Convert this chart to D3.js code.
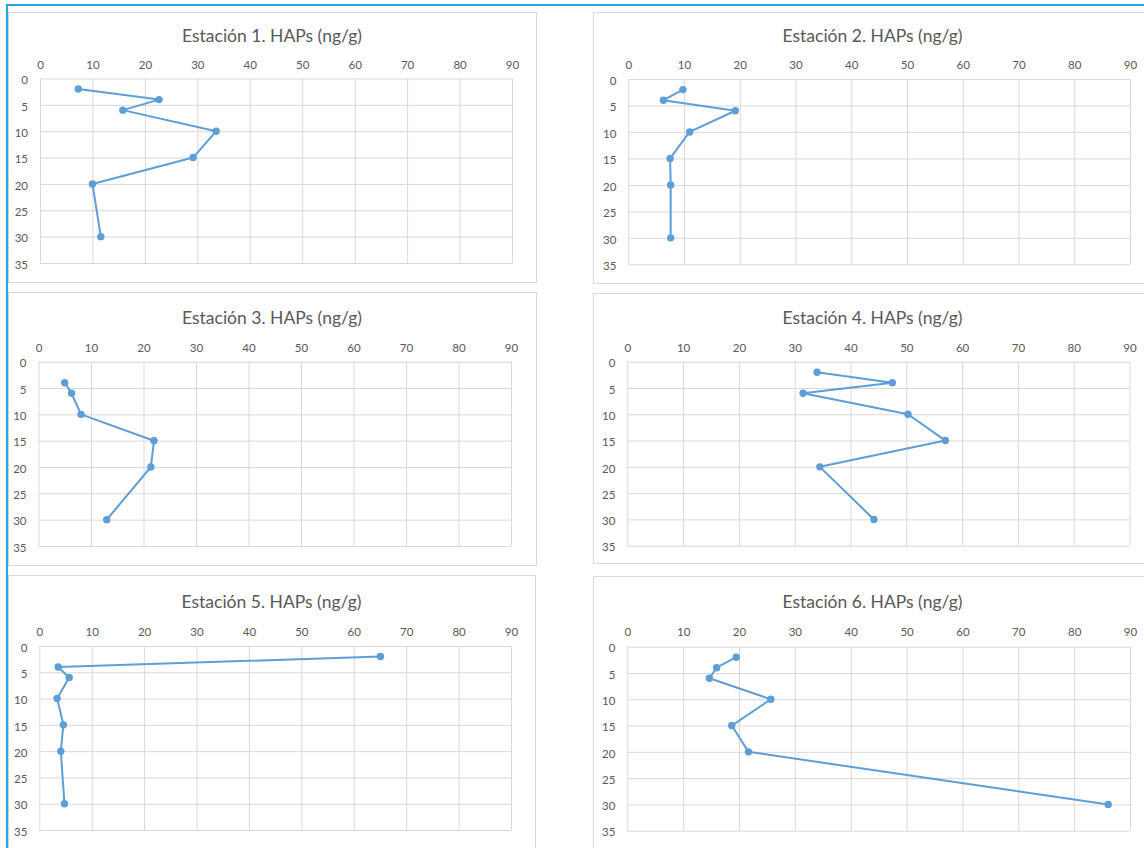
<!DOCTYPE html>
<html>
<head>
<meta charset="utf-8">
<script src="https://cdn.jsdelivr.net/npm/d3@7"></script>
<style>
  html, body { margin: 0; padding: 0; background: #ffffff; }
  svg { display: block; }
  text { font-family: Lato, "Open Sans", "DejaVu Sans", sans-serif; }
</style>
</head>
<body>
<svg id="chart" width="1144" height="848"></svg>
<script>
// Depth of each sample (cm) and HAP concentration (ng/g) per station
const depthsStd = [2, 4, 6, 10, 15, 20, 30];
const depthsSt3 = [4, 6, 10, 15, 20, 30];

const station1 = [7.3, 22.7, 15.8, 33.6, 29.2, 10.0, 11.6];
const station2 = [9.8, 6.3, 19.2, 11.0, 7.5, 7.6, 7.6];
const station3 = [5.0, 6.3, 8.1, 22.0, 21.4, 13.0];
const station4 = [34.0, 47.5, 31.5, 50.3, 57.0, 34.5, 44.2];
const station5 = [65.1, 3.6, 5.7, 3.4, 4.6, 4.1, 4.8];
const station6 = [19.5, 16.0, 14.7, 25.7, 18.7, 21.7, 86.1];

const titles = [
  "Estación 1. HAPs (ng/g)", "Estación 2. HAPs (ng/g)",
  "Estación 3. HAPs (ng/g)", "Estación 4. HAPs (ng/g)",
  "Estación 5. HAPs (ng/g)", "Estación 6. HAPs (ng/g)"
];
const xTicks = [0, 10, 20, 30, 40, 50, 60, 70, 80, 90];
const yTicks = [0, 5, 10, 15, 20, 25, 30, 35];

const series = [
  { title: titles[0], depth: depthsStd, value: station1 },
  { title: titles[1], depth: depthsStd, value: station2 },
  { title: titles[2], depth: depthsSt3, value: station3 },
  { title: titles[3], depth: depthsStd, value: station4 },
  { title: titles[4], depth: depthsStd, value: station5 },
  { title: titles[5], depth: depthsStd, value: station6 }
];

// Layout of each chart box: frame, plot area, title and tick baselines
const layout = [
  { box: [8, 12, 536, 282],    plot: [40, 78.5, 512, 263],     titleY: 42,  tickY: 68.5 },
  { box: [593, 12, 1152, 283], plot: [628.3, 79, 1130, 264.3], titleY: 42,  tickY: 68.5 },
  { box: [8, 292, 536, 565],   plot: [38.5, 361.7, 511, 546],  titleY: 324, tickY: 352 },
  { box: [593, 293, 1152, 563],plot: [627.3, 361.7, 1129.5, 545.7], titleY: 324, tickY: 352 },
  { box: [8, 575, 535, 852],   plot: [39.3, 646, 511, 830],    titleY: 608, tickY: 636 },
  { box: [593, 576, 1152, 852],plot: [627.3, 646.7, 1130, 830.7], titleY: 608, tickY: 636 }
];

const LINE = "#5E9ED7";
const GRID = "#d9d9d9";
const TEXT = "#595959";

const svg = d3.select("#chart");

series.forEach((s, i) => {
  const L = layout[i];
  const [bx0, by0, bx1, by1] = L.box;
  const [px0, py0, px1, py1] = L.plot;

  // chart frame
  svg.append("rect")
    .attr("x", bx0 + 0.5).attr("y", by0 + 0.5)
    .attr("width", bx1 - bx0).attr("height", by1 - by0)
    .attr("fill", "#ffffff").attr("stroke", "#d9d9d9").attr("stroke-width", 1);

  const x = d3.scaleLinear().domain([0, 90]).range([px0, px1]);
  const y = d3.scaleLinear().domain([0, 35]).range([py0, py1]);

  const g = svg.append("g");

  // x axis on top, gridlines run the full plot height
  const xAxis = g.append("g")
    .attr("transform", `translate(0,${py0})`)
    .call(d3.axisTop(x).tickValues(xTicks).tickSize(py0 - py1).tickPadding(0).tickFormat(d3.format("d")));
  xAxis.select(".domain").remove();
  xAxis.selectAll("line").attr("stroke", GRID).attr("stroke-width", 1);
  xAxis.selectAll("text")
    .attr("y", L.tickY - py0).attr("dy", 0)
    .attr("fill", TEXT).style("font-size", "11.5px");

  // y axis: depth increasing downward
  const yAxis = g.append("g")
    .attr("transform", `translate(${px0},0)`)
    .call(d3.axisLeft(y).tickValues(yTicks).tickSize(px0 - px1).tickPadding(12).tickFormat(d3.format("d")));
  yAxis.select(".domain").remove();
  yAxis.selectAll("line").attr("stroke", GRID).attr("stroke-width", 1);
  yAxis.selectAll("text")
    .attr("x", -12).attr("dy", "0.45em")
    .attr("fill", TEXT).style("font-size", "11.5px");

  // title
  svg.append("text")
    .attr("x", (bx0 + bx1) / 2).attr("y", L.titleY)
    .attr("text-anchor", "middle")
    .attr("fill", TEXT).style("font-size", "17.5px")
    .text(s.title);

  const pts = s.depth.map((d, k) => ({ depth: d, value: s.value[k] }));

  const line = d3.line().x(d => x(d.value)).y(d => y(d.depth));
  svg.append("path")
    .datum(pts)
    .attr("d", line)
    .attr("fill", "none")
    .attr("stroke", LINE)
    .attr("stroke-width", 2)
    .attr("stroke-linejoin", "round");

  svg.append("g").selectAll("circle")
    .data(pts).join("circle")
    .attr("cx", d => x(d.value))
    .attr("cy", d => y(d.depth))
    .attr("r", 3.7)
    .attr("fill", LINE);
});

// outer blue frame
svg.append("line").attr("x1", 6).attr("x2", 1144).attr("y1", 5).attr("y2", 5)
  .attr("stroke", "#23a7dd").attr("stroke-width", 2.2);
svg.append("line").attr("x1", 7).attr("x2", 7).attr("y1", 4).attr("y2", 848)
  .attr("stroke", "#23a7dd").attr("stroke-width", 2.2);
</script>
</body>
</html>
